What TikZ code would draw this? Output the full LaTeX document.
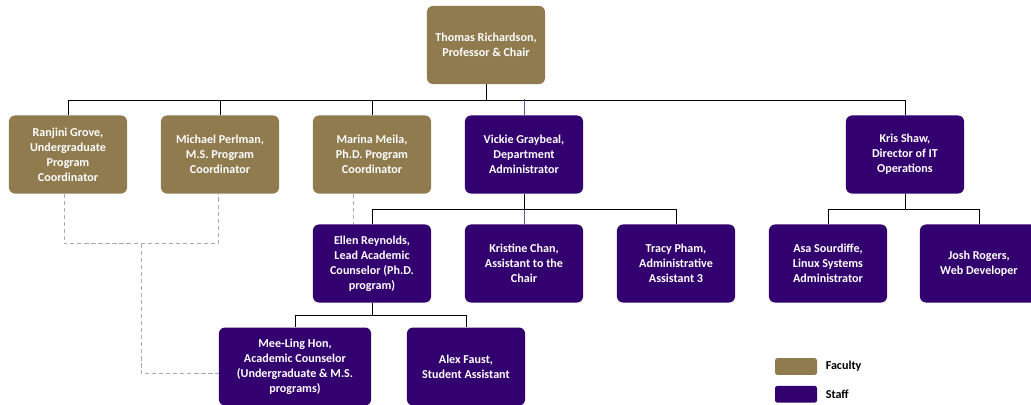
\documentclass[tikz,border=0pt]{standalone}
\usepackage{fontspec}
\setmainfont{Carlito}
\usetikzlibrary{positioning, calc}
\definecolor{facc}{HTML}{8F7B4E}
\definecolor{staffc}{HTML}{33006F}
\definecolor{dashc}{HTML}{ABABAB}
\tikzset{
  person/.style={rounded corners=0.15cm, text=white, align=center, inner sep=2pt,
                 font=\fontsize{8.6}{10.6}\selectfont\bfseries,
                 minimum width=2.95cm, minimum height=1.95cm},
  fac/.style={person, fill=facc},
  stf/.style={person, fill=staffc},
  link/.style={draw=black, line width=0.6pt},
  plink/.style={draw=staffc!70, line width=0.6pt},
  dotline/.style={draw=dashc, line width=0.6pt, dash pattern=on 3pt off 2pt},
  swatch/.style={rounded corners=0.06cm, minimum width=1.05cm, minimum height=0.42cm, inner sep=0pt},
  lgd/.style={font=\fontsize{8.6}{10.6}\selectfont\bfseries, inner sep=1pt},
}

\begin{document}
\begin{tikzpicture}[x=0.025cm, y=-0.025cm]
\useasboundingbox (0,0) rectangle (1031,404);

% chair
\node[fac] (chair) at (486,45) {Thomas Richardson,\\Professor \& Chair};

% second row
\node[fac] (ranjini) at (68,154.5) {Ranjini Grove,\\Undergraduate\\Program\\Coordinator};
\node[fac] (michael) at (220,154.5) {Michael Perlman,\\M.S. Program\\Coordinator};
\node[fac] (marina) at (372,154.5) {Marina Meila,\\Ph.D. Program\\Coordinator};
\node[stf] (vickie) at (524,154.5) {Vickie Graybeal,\\Department\\Administrator};
\node[stf] (kris) at (905,154.5) {Kris Shaw,\\Director of IT\\Operations};

% third row
\node[stf] (ellen) at (372,263.5) {Ellen Reynolds,\\Lead Academic\\Counselor (Ph.D.\\program)};
\node[stf] (kristine) at (524,263.5) {Kristine Chan,\\Assistant to the\\Chair};
\node[stf] (tracy) at (676,263.5) {Tracy Pham,\\Administrative\\Assistant 3};
\node[stf] (asa) at (828,263.5) {Asa Sourdiffe,\\Linux Systems\\Administrator};
\node[stf] (josh) at (979,263.5) {Josh Rogers,\\Web Developer};

% fourth row
\node[stf, minimum width=3.8cm] (meeling) at (295,366.5) {Mee-Ling Hon,\\Academic Counselor\\(Undergraduate \& M.S.\\programs)};
\node[stf] (alex) at (466,366.5) {Alex Faust,\\Student Assistant};

% reporting lines
\foreach \n in {ranjini,michael,marina,kris} {
  \draw[link] (chair.south) -- ++(0,16) -| (\n.north);
}
\draw[link] (chair.south) -- ++(0,16) -| ($(vickie.north)+(0,-16)$);
\draw[plink] ($(vickie.north)+(0,-16)$) -- (vickie.north);
\foreach \n in {ellen,tracy} {
  \draw[link] (vickie.south) -- ++(0,16) -| (\n.north);
}
\draw[link] (vickie.south) -- ++(0,16);
\draw[plink] ($(vickie.south)+(0,16)$) -- (kristine.north);
\foreach \n in {asa,josh} {
  \draw[link] (kris.south) -- ++(0,16) -| (\n.north);
}
\foreach \n in {meeling,alex} {
  \draw[link] (ellen.south) -- ++(0,13) -| (\n.north);
}

% dotted-line reports
\draw[dotline] ([xshift=-0.1cm]ranjini.south) -- ++(0,50) -| ([xshift=-0.05cm]michael.south);
\coordinate (dmid) at ($(ranjini.south)!0.5!(michael.south)+(-3,50)$);
\draw[dotline] (dmid) |- ([yshift=-0.17cm]meeling.west);
\coordinate (mdrop) at ($(marina.south)+(-19,0)$);
\draw[dotline] (mdrop) -- (mdrop |- ellen.north);

% legend
\node[swatch, fill=facc] (facbox) at (796,366.5) {};
\node[lgd, anchor=west, right=0.17cm of facbox] (faclbl) {Faculty};
\node[swatch, fill=staffc, below=0.26cm of facbox] (stfbox) {};
\node[lgd, anchor=west, right=0.17cm of stfbox] (stflbl) {Staff};
\end{tikzpicture}
\end{document}
